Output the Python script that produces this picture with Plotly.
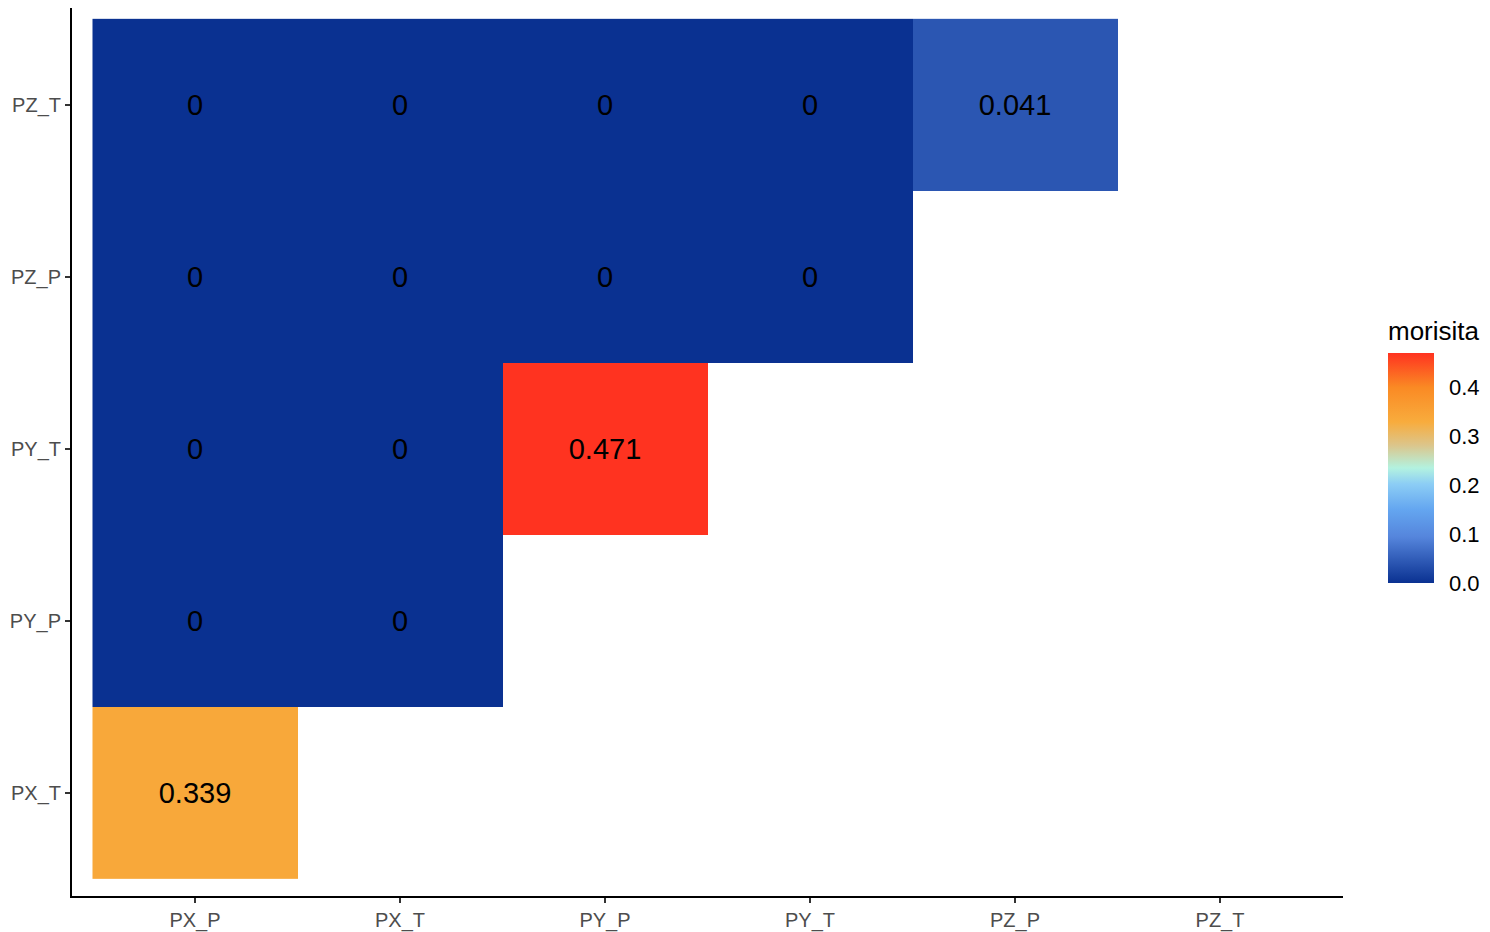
import plotly.graph_objects as go

x_labels = ["PX_P", "PX_T", "PY_P", "PY_T", "PZ_P", "PZ_T"]
y_labels = ["PX_T", "PY_P", "PY_T", "PZ_P", "PZ_T"]

row_PX_T = [0.339, None, None, None, None, None]
row_PY_P = [0, 0, None, None, None, None]
row_PY_T = [0, 0, 0.471, None, None, None]
row_PZ_P = [0, 0, 0, 0, None, None]
row_PZ_T = [0, 0, 0, 0, 0.041, None]

z = [row_PX_T, row_PY_P, row_PY_T, row_PZ_P, row_PZ_T]
text = [["" if v is None else ("0" if v == 0 else f"{v:.3f}") for v in row] for row in z]

colorscale = [
    [0.0, "#0A3191"],
    [0.2, "#5585DC"],
    [0.32, "#64A6F0"],
    [0.43, "#8CCDF5"],
    [0.5, "#B3F2E0"],
    [0.6, "#DCC58A"],
    [0.7, "#F8AC3D"],
    [0.85, "#FA8A24"],
    [1.0, "#FF3320"],
]

fig = go.Figure(go.Heatmap(
    x=x_labels, y=y_labels, z=z, text=text,
    texttemplate="%{text}",
    textfont=dict(family="Liberation Sans, Arial", size=29, color="black"),
    colorscale=colorscale, zmin=0, zmax=0.471,
    hoverongaps=False, xgap=0, ygap=0,
    colorbar=dict(
        title=dict(text="morisita", side="top",
                   font=dict(family="Liberation Sans, Arial", size=26, color="black")),
        x=1.0354, xanchor="left", xref="paper",
        y=0.3525, yanchor="bottom",
        thickness=46, len=265, lenmode="pixels",
        outlinewidth=0,
        tickvals=[0, 0.1, 0.2, 0.3, 0.4],
        ticktext=["0.0", "0.1", "0.2", "0.3", "0.4"],
        ticks="outside", ticklen=11, tickcolor="rgba(0,0,0,0)", tickwidth=1,
        tickfont=dict(family="Liberation Sans, Arial", size=22, color="black"),
        xpad=0, ypad=0,
    ),
))

# page body has an 8px default margin; the figure is sized to fit the window
fig.update_layout(
    width=1482, height=924,
    margin=dict(l=64, r=147, t=0, b=36, autoexpand=False),
    plot_bgcolor="white", paper_bgcolor="white",
    font=dict(family="Liberation Sans, Arial"),
)
fig.update_xaxes(
    range=[-0.6, 5.6], showgrid=False, zeroline=False,
    showline=True, linecolor="black", linewidth=2,
    ticks="outside", ticklen=5, tickcolor="#333333", tickwidth=2,
    tickfont=dict(size=20, color="#4D4D4D"), automargin=False,
)
fig.update_yaxes(
    range=[-0.6, 4.563], showgrid=False, zeroline=False,
    showline=True, linecolor="black", linewidth=2,
    ticks="outside", ticklen=5, tickcolor="#333333", tickwidth=2,
    tickfont=dict(size=20, color="#4D4D4D"), automargin=False,
)

fig.write_html("out.html")
